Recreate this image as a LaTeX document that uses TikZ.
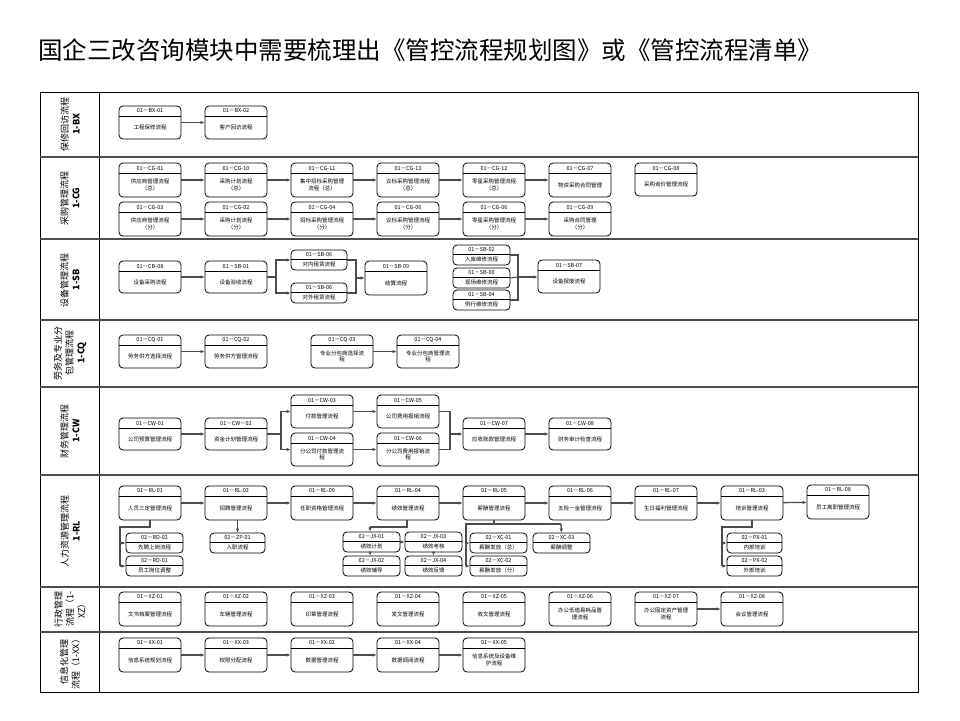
\documentclass[tikz,border=0pt]{standalone}
\usepackage{fontspec}
\setmainfont{Noto Sans CJK SC}
\usetikzlibrary{arrows.meta,fit}
\tikzset{x=1pt,y=-1pt,
 pbox/.style={draw,rounded corners=4pt,line width=0.8pt,inner sep=0pt},
 txt/.style={font=\fontsize{5.5}{6.5}\selectfont,align=center,inner sep=0pt},
 ar/.style={draw=black!70,line width=1.3pt,-{Latex[length=4pt,width=3.5pt,fill=black]}},
 ln/.style={draw=black!70,line width=1.1pt},
 sep/.style={draw=black!70,line width=2pt},
 lane/.style={rotate=90,align=center,font=\fontsize{9}{11.5}\selectfont,inner sep=0pt}}
\newcommand\bx[8]{%
 \path (#2,#3) coordinate (#1a) (#4,#5) coordinate (#1b);
 \node[pbox,fit=(#1a)(#1b)] (#1) {};
 \draw[line width=0.6pt] (#2,#3+#6) -- (#4,#3+#6);
 \node[txt] at ({(#2+#4)/2},{#3+#6/2}) {#7};
 \node[txt] at ({(#2+#4)/2},{(#3+#6+#5)/2}) {#8};}
\begin{document}
\begin{tikzpicture}
\useasboundingbox (0,0) rectangle (960,720);
\fill[white] (0,0) rectangle (960,720);
\node[anchor=west,font=\fontsize{24.5}{28}\selectfont,inner sep=0] (title) at (38,50) {国企三改咨询模块中需要梳理出《管控流程规划图》或《管控流程清单》};
% frame
\draw[line width=0.8pt] (40,92) rectangle (918,692);
\draw[line width=0.8pt] (99,92) -- (99,692);
\foreach \y in {157,239,320,387,475,587,632} \draw[sep] (40,\y) -- (918,\y);
% lane labels
\node[lane] at (70,124) {保修回访流程\\\textbf{1-BX}};
\node[lane] at (70,198) {采购管理流程\\\textbf{1-CG}};
\node[lane] at (70,280) {设备管理流程\\\textbf{1-SB}};
\node[lane] at (70,353) {劳务及专业分\\包管理流程\\\textbf{1-CQ}};
\node[lane] at (70,431) {财务管理流程\\\textbf{1-CW}};
\node[lane] at (70,531) {人力资源管理流程\\\textbf{1-RL}};
\node[lane] at (70,609) {行政管理\\流程（1-\\XZ）};
\node[lane] at (70,662) {信息化管理\\流程（1-XX）};
% BX
\bx{bxa}{119}{106}{181}{139}{10}{01－BX-01}{工程保修流程}
\bx{bxb}{205}{106}{267}{139}{10}{01－BX-02}{客户回访流程}
\draw[ar] (bxa) -- (bxb);
% CG
\bx{cga}{119}{163}{181}{197}{10}{01－CG-01}{供应商管理流程\\（总）}
\bx{cgb}{205}{163}{267}{197}{10}{01－CG-10}{采购计划流程\\（总）}
\bx{cgc}{291}{163}{353}{197}{10}{01－CG-11}{集中招标采购管理\\流程（总）}
\bx{cgd}{377}{163}{439}{197}{10}{01－CG-13}{议标采购管理流程\\（总）}
\bx{cge}{463}{163}{525}{197}{10}{01－CG-12}{零星采购管理流程\\（总）}
\bx{cgf}{549}{163}{611}{197}{10}{01－CG-07}{物资采购合同管理}
\bx{cgg}{635}{163}{697}{196}{10}{01－CG-08}{采购询价管理流程}
\bx{cgh}{119}{202}{181}{236}{10}{01－CG-03}{供应商管理流程\\（分）}
\bx{cgi}{205}{202}{267}{236}{10}{01－CG-02}{采购计划流程\\（分）}
\bx{cgj}{291}{202}{353}{236}{10}{01－CG-04}{招标采购管理流程\\（分）}
\bx{cgk}{377}{202}{439}{236}{10}{01－CG-06}{议标采购管理流程\\（分）}
\bx{cgl}{463}{202}{525}{236}{10}{01－CG-06}{零星采购管理流程\\（分）}
\bx{cgm}{549}{202}{611}{236}{10}{01－CG-09}{采购合同管理\\（分）}
\foreach \p/\q in {cga/cgb,cgb/cgc,cgc/cgd,cgd/cge,cge/cgf,cgh/cgi,cgi/cgj,cgj/cgk,cgk/cgl,cgl/cgm} \draw[ar] (\p) -- (\q);
% SB
\bx{sba}{119}{261}{181}{293}{10}{01－CB-08}{设备采购流程}
\bx{sbb}{205}{261}{267}{293}{10}{01－SB-01}{设备验收流程}
\bx{sbc}{291}{250}{347}{270}{9}{01－SB-06}{对内租赁流程}
\bx{sbd}{291}{283}{347}{303}{9}{01－SB-06}{对外租赁流程}
\bx{sbe}{365}{261}{427}{295}{10}{01－SB-09}{结算流程}
\bx{sbf}{453}{245}{510}{265}{9}{01－SB-02}{入库维修流程}
\bx{sbg}{453}{268}{510}{288}{9}{01－SB-00}{现场维修流程}
\bx{sbh}{453}{290}{510}{310}{9}{01－SB-04}{例行维修流程}
\bx{sbi}{538}{260}{600}{293}{10}{01－SB-07}{设备报废流程}
\draw[ar] (sba) -- (sbb);
\coordinate (sbs) at (276,277);
\draw[ln] (sbb.east) -- (sbs);
\draw[ar] (sbs) |- (sbc.west);
\draw[ar] (sbs) |- (sbd.west);
\coordinate (sbm) at (356,278);
\draw[ln] (sbc.east) -| (sbm) |- (sbd.east);
\draw[ar] (sbm) -- (sbe.west |- sbm);
\coordinate (sbn) at (518,277);
\draw[ln] (sbf.east) -| (sbn) |- (sbh.east);
\draw[ln] (sbg.east) -- (sbn);
\draw[ar] (sbn) -- (sbi.west |- sbn);
% CQ
\bx{cqa}{119}{335}{181}{368}{10}{01－CQ-01}{劳务供方选择流程}
\bx{cqb}{205}{335}{267}{368}{10}{01－CQ-02}{劳务供方管理流程}
\bx{cqc}{311}{335}{373}{368}{10}{01－CQ-03}{专业分包商选择流\\程}
\bx{cqd}{397}{335}{459}{368}{10}{01－CQ-04}{专业分包商管理流\\程}
\draw[ar] (cqa) -- (cqb);
\draw[ar] (cqc) -- (cqd);
% CW
\bx{cwa}{119}{418}{181}{450}{10}{01－CW-01}{公司预算管理流程}
\bx{cwb}{205}{418}{267}{450}{10}{01－CW－02}{资金计划管理流程}
\bx{cwc}{291}{395}{353}{428}{10}{01－CW-03}{付款管理流程}
\bx{cwd}{377}{395}{439}{428}{10}{01－CW-05}{公司费用报销流程}
\bx{cwe}{291}{433}{353}{466}{10}{01－CW-04}{分公司付款管理流\\程}
\bx{cwf}{377}{433}{439}{466}{10}{01－CW-06}{分公司费用报销流\\程}
\bx{cwg}{463}{418}{525}{450}{10}{01－CW-07}{应收账款管理流程}
\bx{cwh}{549}{418}{611}{450}{10}{01－CW-08}{财务审计检查流程}
\draw[ar] (cwa) -- (cwb);
\coordinate (cws) at (281,434);
\draw[ln] (cwb.east) -- (cws);
\draw[ar] (cws) |- (cwc.west);
\draw[ar] (cws) |- (cwe.west);
\draw[ar] (cwc) -- (cwd);
\draw[ar] (cwe) -- (cwf);
\coordinate (cwm) at (450,434);
\draw[ln] (cwd.east) -| (cwm) |- (cwf.east);
\draw[ar] (cwm) -- (cwg.west);
\draw[ar] (cwg) -- (cwh);
% RL
\bx{rla}{119}{486}{181}{520}{10}{01－RL-01}{人员三定管理流程}
\bx{rlb}{205}{486}{267}{520}{10}{01－RL-02}{招聘管理流程}
\bx{rlc}{291}{486}{353}{520}{10}{01－RL-09}{任职资格管理流程}
\bx{rld}{377}{486}{439}{520}{10}{01－RL-04}{绩效管理流程}
\bx{rle}{463}{486}{525}{520}{10}{01－RL-05}{薪酬管理流程}
\bx{rlf}{549}{486}{611}{520}{10}{01－RL-06}{五险一金管理流程}
\bx{rlg}{635}{486}{697}{520}{10}{01－RL-07}{生日福利管理流程}
\bx{rlh}{721}{486}{783}{520}{10}{01－RL-03}{培训管理流程}
\bx{rli}{807}{485}{869}{519}{10}{01－RL-08}{员工离职管理流程}
\foreach \p/\q in {rla/rlb,rlb/rlc,rlc/rld,rld/rle,rle/rlf,rlf/rlg,rlg/rlh,rlh/rli} \draw[ar] (\p) -- (\q);
\bx{rda}{126}{533}{183}{553}{9}{02－RD-02}{先聘上岗流程}
\bx{rdb}{126}{556}{183}{576}{9}{02－RD-01}{员工岗位调整}
\bx{zpa}{210}{533}{265}{553}{9}{02－ZP-01}{入职流程}
\bx{jxa}{343}{532}{400}{552}{9}{02－JX-01}{绩效计划}
\bx{jxc}{405}{532}{462}{552}{9}{02－JX-03}{绩效考核}
\bx{jxb}{343}{556}{400}{576}{9}{02－JX-02}{绩效辅导}
\bx{jxd}{405}{556}{462}{576}{9}{02－JX-04}{绩效反馈}
\bx{xca}{470}{533}{527}{553}{9}{02－XC-01}{薪酬发放（总）}
\bx{xcb}{470}{556}{527}{576}{9}{02－XC-02}{薪酬发放（分）}
\bx{xcc}{533}{533}{590}{553}{9}{02－XC-03}{薪酬调整}
\bx{pxa}{727}{533}{782}{553}{9}{02－PX-01}{内部培训}
\bx{pxb}{727}{556}{782}{576}{9}{02－PX-02}{外部培训}
\coordinate (r1) at (150,527);
\draw[ln] (rla.south -| r1) -- (r1) -- (120,527) -- (120,566);
\draw[ar] (120,543) -- (rda.west);
\draw[ar] (120,566) -- (rdb.west);
\draw[ar] (rlb.south -| zpa) -- (zpa.north);
\coordinate (r4) at (407,527);
\draw[ln] (rld.south -| r4) -- (r4) -- (370,527);
\draw[ar] (370,527) -- (jxa.north -| 370,0);
\draw[ar] (jxa.south -| 370,0) -- (jxb.north -| 370,0);
\draw[ar] (jxc.south) -- (jxd.north);
\draw[ar] (jxa.east) -- (jxc.west);
\coordinate (r5) at (494,524);
\draw[ln] (rle.south -| r5) -- (r5) -- (466,524) -- (466,566);
\draw[ar] (466,543) -- (xca.west);
\draw[ar] (466,566) -- (xcb.west);
\draw[ln] (r5) -- (561,524);
\draw[ar] (561,524) -- (xcc.north);
\coordinate (r3) at (752,527);
\draw[ln] (rlh.south -| r3) -- (r3) -- (722,527) -- (722,566);
\draw[ar] (722,543) -- (pxa.west);
\draw[ar] (722,566) -- (pxb.west);
% XZ
\bx{xza}{119}{592}{181}{626}{10}{01－XZ-01}{文书档案管理流程}
\bx{xzb}{205}{592}{267}{626}{10}{01－XZ-02}{车辆管理流程}
\bx{xzc}{291}{592}{353}{626}{10}{01－XZ-03}{印章管理流程}
\bx{xzd}{377}{592}{439}{626}{10}{01－XZ-04}{发文管理流程}
\bx{xze}{463}{592}{525}{626}{10}{01－XZ-05}{收文管理流程}
\bx{xzf}{549}{592}{611}{626}{10}{01－XZ-06}{办公低值易耗品管\\理流程}
\bx{xzg}{635}{592}{697}{626}{10}{01－XZ-07}{办公固定资产管理\\流程}
\bx{xzh}{721}{592}{783}{626}{10}{01－XZ-08}{会议管理流程}
\draw[ar] (xzg) -- (xzh);
% XX
\bx{xxa}{119}{638}{181}{672}{10}{01－XX-01}{信息系统规划流程}
\bx{xxb}{205}{638}{267}{672}{10}{01－XX-03}{权限分配流程}
\bx{xxc}{291}{638}{353}{672}{10}{01－XX-02}{数据管理流程}
\bx{xxd}{377}{638}{439}{672}{10}{01－XX-04}{数据调阅流程}
\bx{xxe}{463}{638}{525}{672}{10}{01－XX-05}{信息系统及设备维\\护流程}
\foreach \p/\q in {xxa/xxb,xxb/xxc,xxc/xxd,xxd/xxe} \draw[ar] (\p) -- (\q);
\end{tikzpicture}
\end{document}
